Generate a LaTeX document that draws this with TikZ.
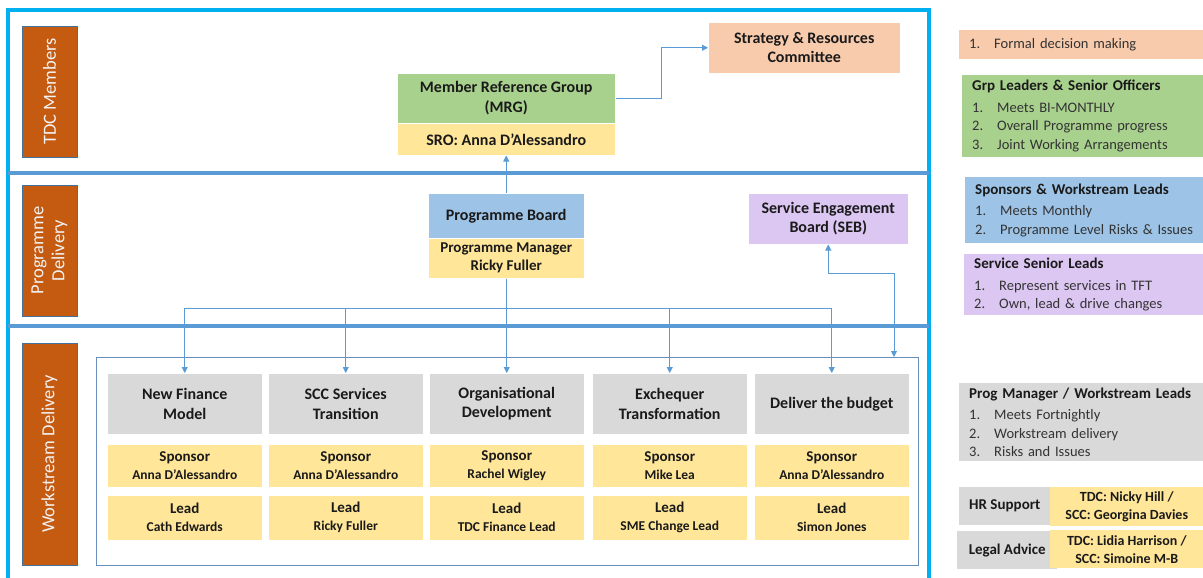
\documentclass[tikz,border=0pt]{standalone}
\usepackage{fontspec}
\setmainfont{Carlito}
\usetikzlibrary{arrows.meta,calc}
\definecolor{cyanframe}{HTML}{00B0F0}
\definecolor{divblue}{HTML}{5B9BD5}
\definecolor{laneor}{HTML}{C55A11}
\definecolor{laneedge}{HTML}{41719C}
\definecolor{cgreen}{HTML}{A9D18E}
\definecolor{cyellow}{HTML}{FFE699}
\definecolor{cpeach}{HTML}{F8CBAD}
\definecolor{cblue}{HTML}{9DC3E6}
\definecolor{cpurple}{HTML}{DCC6F2}
\definecolor{cgray}{HTML}{D9D9D9}
\definecolor{txt}{HTML}{1A1A1A}
\definecolor{txtl}{HTML}{333333}
\definecolor{conn}{HTML}{5B9BD5}
\definecolor{wsedge}{HTML}{6A8FBF}
\begin{document}
\begin{tikzpicture}[x=1pt,y=-1pt,
  bx/.style={rectangle, inner sep=0pt, anchor=north west, align=center, text=txt,
    draw=white, line width=0.5pt, font=\bfseries\fontsize{16}{19.5}\selectfont},
  small/.style={font=\bfseries\fontsize{13.5}{18}\selectfont},
  lane/.style={rectangle, inner sep=0pt, fill=laneor, draw=laneedge, line width=0.8pt,
    text=white!95!black, align=center, rotate=90, font=\fontsize{18.5}{21}\selectfont},
  lg/.style={rectangle, anchor=north west, inner ysep=0pt, inner xsep=10pt, align=left,
    text=txtl, font=\fontsize{14.5}{18.5}\selectfont},
  cn/.style={draw=conn, line width=0.9pt},
  tip/.style={-{Triangle[length=6pt,width=6pt]}},
  tips/.style={{Triangle[length=6pt,width=6pt]}-{Triangle[length=6pt,width=6pt]}}]
\useasboundingbox (0,0) rectangle (1203,578);
\fill[white] (0,0) rectangle (1203,578);

% frame and dividers
\draw[cyanframe, line width=4pt] (8,600) -- (8,10) -- (929,10) -- (929,600);
\draw[divblue, line width=4pt] (8,173) -- (929,173);
\draw[divblue, line width=4pt] (8,326) -- (929,326);

% lanes
\node[lane, minimum width=131pt, minimum height=55pt] (l1) at (49.5,91.5) {TDC Members};
\node[lane, minimum width=131pt, minimum height=55pt] (l2) at (49.5,250.5) {Programme\\Delivery};
\node[lane, minimum width=222pt, minimum height=55pt] (l3) at (49.5,454) {Workstream Delivery};

% top tier
\node[bx, fill=cpeach, minimum width=192pt, minimum height=51pt] (src) at (708,22) {Strategy \& Resources\\Committee};
\node[bx, fill=cgreen, minimum width=218pt, minimum height=50pt] (mrg) at (397,73) {Member Reference Group\\(MRG)};
\node[bx, fill=cyellow, minimum width=218pt, minimum height=32pt] (sro) at (397,123) {SRO: Anna D’Alessandro};

% programme tier
\node[bx, fill=cblue, minimum width=156pt, minimum height=45pt] (pb) at (428,193) {Programme Board};
\node[bx, fill=cyellow, minimum width=156pt, minimum height=40pt, font=\bfseries\fontsize{15}{18}\selectfont] (pm) at (428,238) {Programme Manager\\Ricky Fuller};
\node[bx, fill=cpurple, minimum width=160pt, minimum height=51pt] (seb) at (748,193) {Service Engagement\\Board (SEB)};

% workstream frame
\node[rectangle, draw=wsedge, line width=1.2pt, inner sep=0pt, minimum width=822pt, minimum height=208pt, anchor=north west] (wsf) at (96,357) {};

\foreach \i/\x/\h/\s/\l in {
  1/107/{New Finance\\Model}/{Anna D’Alessandro}/{Cath Edwards},
  2/268/{SCC Services\\Transition}/{Anna D’Alessandro}/{Ricky Fuller},
  3/429/{Organisational\\Development}/{Rachel Wigley}/{TDC Finance Lead},
  4/592/{Exchequer\\Transformation}/{Mike Lea}/{SME Change Lead},
  5/754/{Deliver the budget}/{Anna D’Alessandro}/{Simon Jones}}{
  \node[bx, fill=cgray, minimum width=155pt, minimum height=61pt] (ws\i) at (\x,373) {\h};
  \node[bx, small, fill=cyellow, minimum width=155pt, minimum height=43pt] (sp\i) at (\x,444) {{\fontsize{15}{18}\selectfont Sponsor}\\\s};
  \node[bx, small, fill=cyellow, minimum width=155pt, minimum height=45pt] (ld\i) at (\x,495) {{\fontsize{15}{18}\selectfont Lead}\\\l};
}

% connectors
\draw[cn, tip] (mrg.east) -- ++(46,0) |- (src.west);
\draw[cn, tip] (pb.north) -- (sro.south);
\coordinate (busy) at (0,308);
\foreach \i in {1,...,5}{
  \draw[cn, tip] (pm.south) |- (ws\i.north |- busy) -- (ws\i.north);
}
\coordinate (sebturn) at (894,273);
\draw[cn, tips] (seb.south) |- (sebturn) -- (sebturn |- wsf.north);

% legend
\node[lg, fill=cpeach, minimum width=244pt, minimum height=29pt, text width=224pt] (k1) at (959,30)
  {\makebox[25pt][l]{1.}Formal decision making};
\node[lg, fill=cgreen, minimum width=241pt, minimum height=82pt, text width=221pt] (k2) at (962,75)
  {{\bfseries\color{txt}\fontsize{15}{18.5}\selectfont Grp Leaders \& Senior Officers}\\[3pt]
   \makebox[25pt][l]{1.}Meets BI-MONTHLY\\
   \makebox[25pt][l]{2.}Overall Programme progress\\
   \makebox[25pt][l]{3.}Joint Working Arrangements};
\node[lg, fill=cblue, minimum width=238pt, minimum height=66pt, text width=218pt] (k3) at (965,177)
  {{\bfseries\color{txt}\fontsize{15}{18.5}\selectfont Sponsors \& Workstream Leads}\\[3pt]
   \makebox[25pt][l]{1.}Meets Monthly\\
   \makebox[25pt][l]{2.}Programme Level Risks \& Issues};
\node[lg, fill=cpurple, minimum width=239pt, minimum height=61pt, text width=219pt] (k4) at (964,254)
  {{\bfseries\color{txt}\fontsize{15}{18.5}\selectfont Service Senior Leads}\\[3pt]
   \makebox[25pt][l]{1.}Represent services in TFT\\
   \makebox[25pt][l]{2.}Own, lead \& drive changes};
\node[lg, fill=cgray, minimum width=244pt, minimum height=78pt, text width=224pt] (k5) at (959,383)
  {{\bfseries\color{txt}\fontsize{15}{18.5}\selectfont Prog Manager / Workstream Leads}\\[3pt]
   \makebox[25pt][l]{1.}Meets Fortnightly\\
   \makebox[25pt][l]{2.}Workstream delivery\\
   \makebox[25pt][l]{3.}Risks and Issues};
\node[bx, fill=cgray, draw=none, minimum width=91pt, minimum height=38pt, font=\bfseries\fontsize{15}{18}\selectfont] (hr) at (959,487) {HR Support};
\node[bx, fill=cyellow, draw=none, minimum width=153pt, minimum height=39pt, font=\bfseries\fontsize{14}{18}\selectfont] (hrn) at (1050,487) {TDC: Nicky Hill /\\SCC: Georgina Davies};
\node[bx, fill=cgray, draw=none, minimum width=100pt, minimum height=38pt, font=\bfseries\fontsize{15}{18}\selectfont] (lg) at (957,531) {Legal Advice};
\node[bx, fill=cyellow, draw=none, minimum width=153pt, minimum height=38pt, font=\bfseries\fontsize{14}{18}\selectfont] (lgn) at (1050,530) {TDC: Lidia Harrison /\\SCC: Simoine M-B};
\end{tikzpicture}
\end{document}
